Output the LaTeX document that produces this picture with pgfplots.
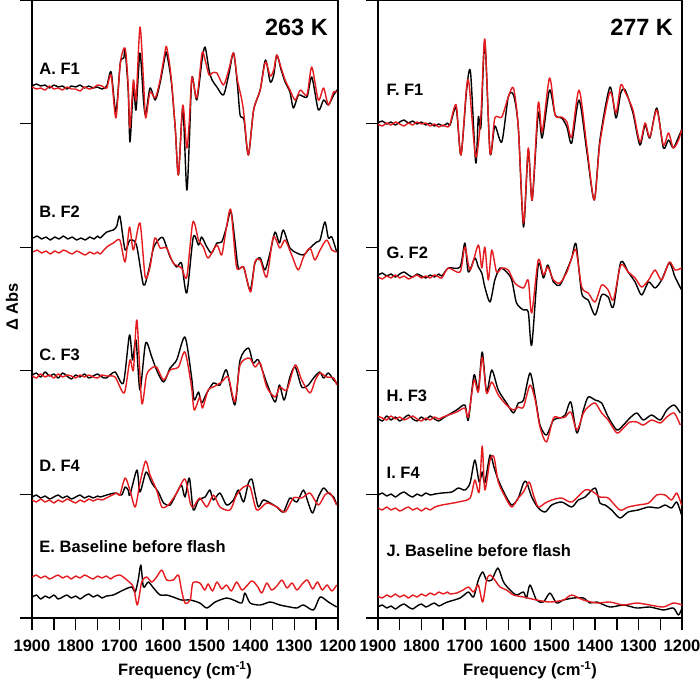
\documentclass[border=0pt]{standalone}
\usepackage{pgfplots}
\pgfplotsset{compat=1.18}
\usepackage{fontspec}
\setmainfont{Liberation Sans}
\definecolor{sred}{RGB}{228,28,32}
\newcommand{\tfont}{\bfseries\fontsize{16.5}{18}\selectfont}
\newcommand{\lfont}{\bfseries\fontsize{16.5}{18}\selectfont}
\newcommand{\bigfont}{\bfseries\fontsize{23.5}{26}\selectfont}
\pgfplotsset{
  spec/.style={
    scale only axis, anchor=south west, height=618pt,
    x dir=reverse, xmin=1200, xmax=1900,
    y dir=reverse, ymin=0, ymax=618,
    xtick={1200,1250,...,1900},
    xticklabels={1200,,1300,,1400,,1500,,1600,,1700,,1800,,1900},
    ytick={0,123.6,247.2,370.8,494.4,618},
    yticklabels={},
    xtick pos=bottom, ytick pos=left,
    tick align=outside, major tick length=12pt,
    tick style={line width=1.3pt, black},
    axis line style={line width=1.3pt},
    xticklabel style={font=\tfont, inner sep=0pt, yshift=-9.5pt},
    xlabel={Frequency (cm\textsuperscript{-1})},
    xlabel style={font=\lfont, inner sep=0pt, at={(axis description cs:0.5,0)}, anchor=center, yshift=-52pt},
    every axis plot/.append style={line width=1.4pt, line join=round, smooth, tension=0.45},
  },
  blk/.style={black},
  rd/.style={sred},
}
\begin{document}
\begin{tikzpicture}
\path[use as bounding box] (0,0) rectangle (700pt,683pt);
% ================= LEFT: 263 K =================
\begin{axis}[spec, at={(32pt,65pt)}, width=306pt,
  ylabel={Δ Abs},
  ylabel style={font=\lfont, at={(axis description cs:-0.0654,0.503)}, anchor=center}]
% A black
\addplot[blk] coordinates {(1899,86)(1890,84)(1880,86)(1870,85)(1860,88)(1850,85)(1840,87)(1830,86)(1820,89)(1810,86)(1800,87)(1790,85)(1780,88)(1770,86)(1760,88)(1750,87)(1740,89)(1729,86)(1719,72)(1708,112)(1698,63)(1690,58)(1687,50)(1680,90)(1676,142)(1670,100)(1667,85)(1662,110)(1653,53)(1645,100)(1640,115)(1630,88)(1618,100)(1607,83)(1595,55)(1592,53)(1585,70)(1580,87)(1572,130)(1565,175)(1555,108)(1546,190)(1540,140)(1534,77)(1523,100)(1511,60)(1504,47)(1495,70)(1488,80)(1477,87)(1462,95)(1450,75)(1439,53)(1430,85)(1424,115)(1415,120)(1405,155)(1393,110)(1378,90)(1366,60)(1355,82)(1347,75)(1340,55)(1330,70)(1321,82)(1310,92)(1302,108)(1290,95)(1271,97)(1260,77)(1245,110)(1233,100)(1222,105)(1210,95)(1202,90)};
% A red
\addplot[rd] coordinates {(1899,87)(1890,89)(1880,88)(1870,90)(1860,86)(1850,89)(1840,88)(1830,90)(1820,87)(1810,89)(1800,89)(1790,91)(1780,87)(1770,89)(1760,88)(1750,85)(1740,86)(1729,88)(1719,75)(1708,118)(1698,63)(1687,48)(1680,85)(1676,128)(1668,80)(1662,100)(1653,27)(1645,80)(1640,118)(1630,92)(1618,98)(1607,80)(1595,50)(1592,47)(1585,65)(1580,85)(1572,130)(1565,175)(1555,105)(1546,148)(1540,120)(1534,77)(1523,98)(1511,53)(1504,60)(1495,75)(1488,73)(1477,73)(1462,85)(1450,70)(1439,53)(1430,80)(1420,100)(1415,115)(1405,155)(1393,110)(1378,90)(1366,62)(1355,76)(1347,70)(1340,55)(1330,68)(1321,80)(1310,90)(1298,100)(1286,90)(1271,95)(1260,67)(1245,100)(1233,88)(1222,105)(1210,92)(1202,92)};
% B black
\addplot[blk] coordinates {(1897,238)(1888,236)(1878,239)(1868,237)(1858,240)(1848,237)(1838,239)(1828,236)(1818,239)(1808,237)(1798,240)(1788,238)(1778,240)(1768,237)(1758,239)(1750,236)(1744,238)(1729,232)(1714,230)(1706,226)(1699,216)(1687,250)(1676,240)(1661,245)(1645,285)(1634,272)(1622,248)(1611,240)(1600,238)(1584,257)(1569,267)(1558,263)(1546,293)(1531,237)(1519,245)(1512,237)(1500,247)(1489,253)(1477,243)(1466,242)(1455,227)(1445,211)(1436,240)(1428,268)(1416,267)(1401,290)(1390,263)(1378,258)(1367,270)(1355,252)(1344,232)(1334,243)(1325,230)(1310,248)(1294,253)(1279,255)(1264,248)(1249,242)(1241,240)(1230,222)(1222,238)(1214,237)(1203,252)};
% B red
\addplot[rd] coordinates {(1897,252)(1888,250)(1878,253)(1868,251)(1858,254)(1848,251)(1838,253)(1828,250)(1818,252)(1808,254)(1798,251)(1788,253)(1778,255)(1768,252)(1758,254)(1750,252)(1744,254)(1729,247)(1714,243)(1699,240)(1687,262)(1677,227)(1668,250)(1653,223)(1641,277)(1630,267)(1619,238)(1607,248)(1592,248)(1577,263)(1558,268)(1546,277)(1532,222)(1519,240)(1508,247)(1497,258)(1477,245)(1466,255)(1455,227)(1445,210)(1432,267)(1416,267)(1400,292)(1390,262)(1378,260)(1363,277)(1348,237)(1333,248)(1321,240)(1306,255)(1291,270)(1279,257)(1264,248)(1253,260)(1241,250)(1226,240)(1214,250)(1203,252)};
% C black
\addplot[blk] coordinates {(1899,375)(1890,373)(1880,377)(1870,372)(1860,376)(1850,374)(1840,378)(1830,373)(1820,376)(1810,379)(1800,375)(1790,377)(1780,374)(1770,378)(1760,376)(1750,374)(1740,377)(1730,378)(1710,372)(1691,383)(1677,335)(1670,360)(1662,340)(1653,390)(1640,343)(1626,357)(1615,370)(1599,382)(1584,368)(1569,360)(1550,337)(1535,377)(1529,400)(1519,392)(1512,403)(1500,393)(1485,383)(1470,385)(1455,370)(1436,405)(1424,360)(1405,348)(1394,363)(1382,360)(1363,383)(1344,402)(1334,385)(1323,400)(1310,377)(1298,367)(1283,387)(1268,385)(1256,378)(1242,372)(1233,378)(1222,373)(1210,380)(1203,383)};
% C red
\addplot[rd] coordinates {(1899,376)(1890,378)(1880,374)(1870,377)(1860,375)(1850,378)(1840,374)(1830,377)(1820,375)(1810,376)(1800,378)(1790,375)(1780,377)(1770,375)(1760,377)(1750,378)(1740,375)(1730,376)(1710,377)(1689,393)(1676,360)(1668,370)(1660,320)(1649,403)(1638,375)(1626,368)(1615,367)(1599,380)(1584,370)(1565,367)(1550,352)(1535,387)(1529,410)(1516,397)(1510,408)(1497,390)(1485,387)(1466,382)(1451,377)(1436,402)(1424,365)(1403,358)(1390,367)(1378,363)(1363,387)(1344,397)(1333,387)(1317,390)(1298,365)(1283,380)(1264,393)(1252,380)(1241,373)(1226,377)(1210,378)(1203,385)};
% D black
\addplot[blk] coordinates {(1899,497)(1890,495)(1880,498)(1870,496)(1860,499)(1850,497)(1840,495)(1830,498)(1820,496)(1810,499)(1800,497)(1790,495)(1780,498)(1770,496)(1760,498)(1750,496)(1744,497)(1729,495)(1710,493)(1695,495)(1687,487)(1680,490)(1676,495)(1660,470)(1653,492)(1639,472)(1626,483)(1611,492)(1599,503)(1584,505)(1569,493)(1558,485)(1550,497)(1540,478)(1531,510)(1519,500)(1504,497)(1493,490)(1485,500)(1470,493)(1455,505)(1439,500)(1428,490)(1416,502)(1405,483)(1397,479)(1390,493)(1382,507)(1371,500)(1355,503)(1340,507)(1325,512)(1310,498)(1294,502)(1279,490)(1268,503)(1258,513)(1245,497)(1233,488)(1222,493)(1210,497)(1203,505)};
% D red
\addplot[rd] coordinates {(1899,500)(1890,502)(1880,499)(1870,502)(1860,500)(1850,503)(1840,500)(1830,502)(1820,499)(1810,501)(1800,503)(1790,500)(1780,502)(1770,499)(1760,501)(1750,499)(1740,500)(1730,498)(1706,493)(1699,495)(1687,478)(1676,490)(1664,507)(1653,483)(1640,461)(1630,475)(1615,490)(1603,507)(1588,505)(1569,493)(1550,479)(1538,503)(1531,507)(1516,498)(1500,507)(1485,495)(1470,507)(1447,510)(1432,495)(1416,487)(1401,487)(1386,510)(1363,503)(1340,507)(1321,512)(1302,498)(1283,498)(1264,493)(1245,505)(1230,495)(1218,493)(1203,505)};
% E black
\addplot[blk] coordinates {(1899,597)(1890,595)(1880,599)(1870,596)(1860,598)(1850,595)(1840,599)(1830,597)(1820,595)(1810,598)(1800,596)(1790,599)(1780,596)(1770,594)(1760,597)(1750,595)(1740,598)(1730,596)(1714,595)(1691,590)(1672,587)(1664,592)(1657,580)(1651,565)(1645,587)(1634,582)(1622,588)(1607,595)(1592,595)(1577,597)(1558,600)(1538,600)(1516,603)(1500,608)(1481,602)(1455,598)(1439,600)(1420,603)(1413,593)(1401,603)(1378,605)(1355,602)(1333,605)(1310,607)(1294,608)(1279,605)(1256,610)(1241,597)(1222,602)(1203,607)};
% E red
\addplot[rd] coordinates {(1899,577)(1890,575)(1880,578)(1870,576)(1860,579)(1850,577)(1840,575)(1830,578)(1820,576)(1810,579)(1800,576)(1790,578)(1780,575)(1770,577)(1760,579)(1750,576)(1740,578)(1730,576)(1720,579)(1714,577)(1699,575)(1683,580)(1668,587)(1659,605)(1649,582)(1638,577)(1626,582)(1615,577)(1603,570)(1592,580)(1577,580)(1565,575)(1558,590)(1550,603)(1538,600)(1532,583)(1516,583)(1505,590)(1497,584)(1487,591)(1477,582)(1466,589)(1455,585)(1444,591)(1432,582)(1420,590)(1409,586)(1398,581)(1390,583)(1382,588)(1374,593)(1363,583)(1352,590)(1340,586)(1328,580)(1317,588)(1305,583)(1294,590)(1282,584)(1270,580)(1258,589)(1247,582)(1236,590)(1225,585)(1214,591)(1203,585)};
\node[anchor=west, font=\lfont] at (axis cs:1891,69) {A. F1};
\node[anchor=west, font=\lfont] at (axis cs:1891,212) {B. F2};
\node[anchor=west, font=\lfont] at (axis cs:1891,355) {C. F3};
\node[anchor=west, font=\lfont] at (axis cs:1891,466) {D. F4};
\node[anchor=west, font=\lfont] at (axis cs:1891,547) {E. Baseline before flash};
\node[font=\bigfont] at (axis cs:1295,27) {263 K};
\end{axis}
% ================= RIGHT: 277 K =================
\begin{axis}[spec, at={(378pt,65pt)}, width=304pt]
% F black
\addplot[blk] coordinates {(1901,123)(1890,121)(1880,124)(1870,122)(1860,125)(1850,122)(1840,120)(1830,123)(1820,121)(1810,124)(1800,122)(1790,125)(1780,123)(1770,126)(1760,124)(1750,126)(1740,123)(1734,125)(1720,108)(1709,155)(1696,90)(1687,72)(1675,163)(1669,117)(1663,127)(1654,42)(1642,153)(1631,126)(1615,142)(1600,97)(1588,95)(1577,127)(1565,227)(1554,150)(1545,200)(1531,113)(1522,138)(1505,90)(1492,115)(1477,118)(1465,127)(1454,143)(1437,100)(1419,152)(1402,200)(1389,140)(1366,87)(1352,118)(1341,93)(1331,90)(1313,113)(1297,145)(1285,125)(1274,138)(1258,108)(1243,148)(1231,140)(1220,148)(1208,137)(1201,130)};
% F red
\addplot[rd] coordinates {(1901,124)(1890,126)(1880,123)(1870,125)(1860,122)(1850,124)(1840,126)(1830,123)(1820,125)(1810,122)(1800,124)(1790,123)(1780,126)(1770,124)(1760,127)(1750,125)(1740,127)(1734,124)(1720,105)(1709,155)(1696,87)(1690,85)(1675,157)(1663,115)(1654,39)(1642,153)(1631,118)(1615,117)(1600,97)(1588,88)(1577,127)(1565,223)(1554,148)(1545,200)(1531,103)(1522,132)(1505,78)(1492,115)(1477,117)(1465,122)(1454,137)(1437,90)(1419,147)(1402,200)(1389,143)(1366,92)(1352,113)(1341,85)(1331,92)(1313,110)(1297,142)(1285,123)(1274,137)(1258,110)(1243,145)(1231,133)(1220,148)(1208,140)(1201,130)};
% G black
\addplot[blk] coordinates {(1899,275)(1890,273)(1880,276)(1870,274)(1860,277)(1850,274)(1840,272)(1830,275)(1820,277)(1810,274)(1800,276)(1790,278)(1780,275)(1770,277)(1760,274)(1753,276)(1738,268)(1711,267)(1700,243)(1692,272)(1677,258)(1669,267)(1661,273)(1654,287)(1642,302)(1631,280)(1619,268)(1604,272)(1592,280)(1581,303)(1565,310)(1554,312)(1546,345)(1531,265)(1519,278)(1509,265)(1496,282)(1481,285)(1465,270)(1454,258)(1444,244)(1431,293)(1416,300)(1400,315)(1385,295)(1370,297)(1358,307)(1341,262)(1324,272)(1308,282)(1293,295)(1277,282)(1262,288)(1247,280)(1229,263)(1216,277)(1201,290)};
% G red
\addplot[rd] coordinates {(1899,277)(1890,279)(1880,276)(1870,278)(1860,275)(1850,278)(1840,276)(1830,279)(1820,277)(1810,275)(1800,278)(1790,276)(1780,278)(1770,275)(1760,277)(1753,278)(1738,268)(1711,272)(1700,247)(1688,270)(1669,245)(1661,268)(1654,247)(1646,280)(1638,250)(1627,272)(1615,268)(1600,270)(1585,283)(1565,288)(1554,280)(1546,313)(1531,260)(1519,275)(1509,267)(1496,280)(1481,283)(1465,272)(1454,258)(1444,250)(1431,287)(1416,293)(1400,302)(1385,285)(1370,290)(1358,300)(1341,265)(1324,272)(1308,278)(1293,287)(1277,280)(1262,270)(1247,280)(1229,262)(1216,270)(1201,268)};
% H black
\addplot[blk] coordinates {(1901,418)(1890,421)(1880,416)(1870,420)(1860,417)(1850,421)(1840,418)(1830,415)(1820,419)(1810,421)(1800,417)(1790,420)(1780,416)(1770,419)(1760,421)(1750,418)(1719,410)(1700,405)(1692,420)(1679,375)(1669,390)(1660,352)(1650,392)(1638,370)(1623,390)(1604,403)(1588,413)(1577,403)(1565,400)(1550,373)(1538,397)(1527,425)(1512,435)(1496,420)(1481,418)(1469,415)(1456,402)(1442,433)(1427,410)(1416,397)(1400,400)(1385,403)(1370,417)(1350,430)(1335,425)(1320,418)(1304,413)(1289,420)(1270,415)(1250,420)(1235,410)(1218,405)(1204,413)};
% H red
\addplot[rd] coordinates {(1901,416)(1890,418)(1880,420)(1870,416)(1860,419)(1850,417)(1840,420)(1830,418)(1820,416)(1810,419)(1800,421)(1790,418)(1780,420)(1770,417)(1760,419)(1750,417)(1719,412)(1700,408)(1692,417)(1679,380)(1669,392)(1660,357)(1650,393)(1638,382)(1623,395)(1604,405)(1588,410)(1577,407)(1565,407)(1550,385)(1538,400)(1527,427)(1512,442)(1496,418)(1481,418)(1469,417)(1456,412)(1442,430)(1427,413)(1416,407)(1400,403)(1385,413)(1370,420)(1350,433)(1335,428)(1320,422)(1304,422)(1289,425)(1270,420)(1250,423)(1235,417)(1218,413)(1204,425)};
% I black
\addplot[blk] coordinates {(1899,495)(1890,493)(1880,496)(1870,494)(1860,497)(1850,494)(1840,492)(1830,495)(1820,497)(1810,494)(1800,496)(1790,493)(1780,495)(1769,494)(1753,493)(1730,492)(1715,488)(1700,490)(1688,483)(1677,460)(1667,482)(1660,472)(1654,483)(1642,455)(1633,467)(1623,480)(1607,495)(1592,505)(1577,498)(1565,483)(1558,482)(1546,497)(1531,508)(1515,512)(1500,505)(1477,502)(1454,507)(1439,500)(1423,497)(1400,488)(1389,503)(1377,505)(1362,510)(1343,518)(1324,512)(1301,510)(1277,507)(1254,508)(1239,505)(1224,508)(1212,502)(1201,515)};
% I red
\addplot[rd] coordinates {(1899,508)(1890,510)(1880,507)(1870,510)(1860,508)(1850,511)(1840,509)(1830,507)(1820,510)(1810,508)(1800,511)(1790,508)(1780,510)(1769,507)(1753,505)(1715,502)(1688,498)(1677,480)(1667,492)(1660,446)(1654,490)(1642,460)(1633,457)(1623,482)(1607,497)(1592,507)(1577,498)(1565,492)(1552,482)(1542,495)(1531,507)(1515,503)(1500,500)(1477,498)(1454,502)(1423,490)(1404,492)(1389,497)(1370,498)(1343,510)(1324,507)(1301,505)(1277,503)(1258,495)(1239,495)(1224,500)(1212,493)(1201,505)};
% J black
\addplot[blk] coordinates {(1901,607)(1890,605)(1880,608)(1870,606)(1860,609)(1850,606)(1840,604)(1830,607)(1820,609)(1810,606)(1800,604)(1790,607)(1780,605)(1770,603)(1760,606)(1750,604)(1740,602)(1711,598)(1692,592)(1680,597)(1669,580)(1659,572)(1650,580)(1638,580)(1624,568)(1611,582)(1596,590)(1581,595)(1565,592)(1558,598)(1550,585)(1535,600)(1519,602)(1504,593)(1489,603)(1473,600)(1450,598)(1427,598)(1412,603)(1396,602)(1366,607)(1335,605)(1304,608)(1274,607)(1243,610)(1220,608)(1208,615)(1199,607)};
% J red
\addplot[rd] coordinates {(1901,596)(1890,598)(1880,595)(1870,597)(1860,594)(1850,597)(1840,595)(1830,598)(1820,595)(1810,597)(1800,594)(1790,596)(1780,593)(1770,595)(1760,592)(1750,594)(1740,592)(1734,594)(1719,593)(1704,590)(1692,587)(1680,592)(1669,585)(1659,602)(1650,580)(1642,575)(1631,580)(1619,587)(1604,590)(1588,595)(1565,597)(1535,600)(1504,602)(1473,600)(1454,595)(1427,600)(1396,603)(1366,602)(1335,605)(1304,603)(1274,605)(1243,607)(1220,603)(1199,605)};
\node[anchor=west, font=\lfont] at (axis cs:1888,90) {F. F1};
\node[anchor=west, font=\lfont] at (axis cs:1888,253) {G. F2};
\node[anchor=west, font=\lfont] at (axis cs:1888,396) {H. F3};
\node[anchor=west, font=\lfont] at (axis cs:1888,473) {I. F4};
\node[anchor=west, font=\lfont] at (axis cs:1888,551) {J. Baseline before flash};
\node[font=\bigfont] at (axis cs:1293,27) {277 K};
\end{axis}
\end{tikzpicture}
\end{document}
